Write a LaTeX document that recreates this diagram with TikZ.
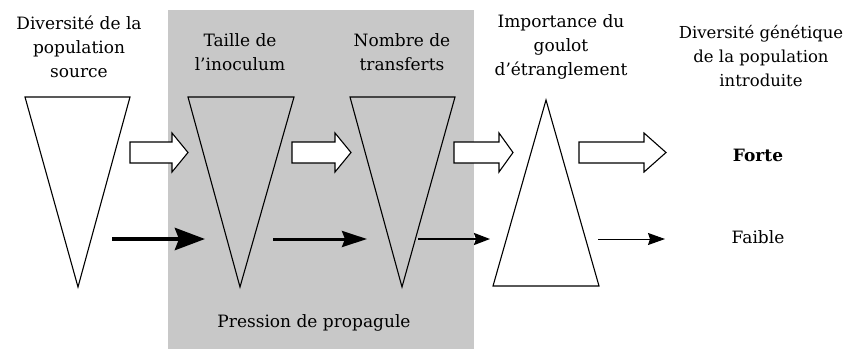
\documentclass[tikz,border=0pt]{standalone}
\usepackage{fontspec}
\setmainfont{DejaVu Serif}
\usetikzlibrary{arrows.meta}
\begin{document}
\begin{tikzpicture}[x=1pt,y=-1pt,
  lbl/.style={align=center,font=\fontsize{17}{24}\selectfont,inner sep=0pt},
  tri/.style={draw=black,line width=1.1pt,fill=white,line join=miter},
  hollow/.style={draw=black,line width=1.1pt,fill=white},
  blk/.style={draw=black,line cap=butt}]
\useasboundingbox (0,0) rectangle (853,349);
% gray band
\fill[fill={rgb,255:red,200;green,200;blue,200}] (168,10) rectangle (474,349);
% triangles
\draw[tri] (25,97) -- (130,97) -- (78,287) -- cycle;
\draw[tri,fill={rgb,255:red,200;green,200;blue,200}] (188,97) -- (294,97) -- (240,287) -- cycle;
\draw[tri,fill={rgb,255:red,200;green,200;blue,200}] (350,97) -- (455,97) -- (402,287) -- cycle;
\draw[tri] (546,100) -- (599,286) -- (493,286) -- cycle;
% hollow arrows: start, head start, tip ; yc=152
\foreach \a/\h/\b in {130/172/188, 292/335/351, 454/499/513, 579/644/666}{
  \draw[hollow] (\a,142) -- (\h,142) -- (\h,133) -- (\b,152.5) -- (\h,172) -- (\h,163) -- (\a,163) -- cycle;
}
% black arrows
\coordinate (b1s) at (112,239); \coordinate (b1e) at (205,239);
\coordinate (b2s) at (273,239); \coordinate (b2e) at (367,239);
\coordinate (b3s) at (418,239); \coordinate (b3e) at (490,239);
\coordinate (b4s) at (598,239); \coordinate (b4e) at (665,239);
\draw[blk,line width=4.5pt,-{Stealth[length=30pt,width=22pt,inset=4pt]}] (b1s) -- (b1e);
\draw[blk,line width=3pt,-{Stealth[length=25pt,width=16pt,inset=3pt]}] (b2s) -- (b2e);
\draw[blk,line width=2pt,-{Stealth[length=16pt,width=12pt,inset=2pt]}] (b3s) -- (b3e);
\draw[blk,line width=1pt,-{Stealth[length=17pt,width=12pt,inset=2pt]}] (b4s) -- (b4e);
% labels
\node[lbl] (t1) at (79,47) {Diversité de la\\population\\source};
\node[lbl] (t2) at (240,52) {Taille de\\l’inoculum};
\node[lbl] (t3) at (402,52) {Nombre de\\transferts};
\node[lbl] (t4) at (561,47) {Importance du\\goulot\\d’étranglement};
\node[lbl,font=\fontsize{16.5}{24}\selectfont] (t5) at (761,56) {Diversité génétique\\de la population\\introduite};
\node[lbl,font=\fontsize{17}{20}\bfseries] (forte) at (758,155) {Forte};
\node[lbl] (faible) at (758,237) {Faible};
\node[lbl] (press) at (314,323) {Pression de propagule};
\end{tikzpicture}
\end{document}
